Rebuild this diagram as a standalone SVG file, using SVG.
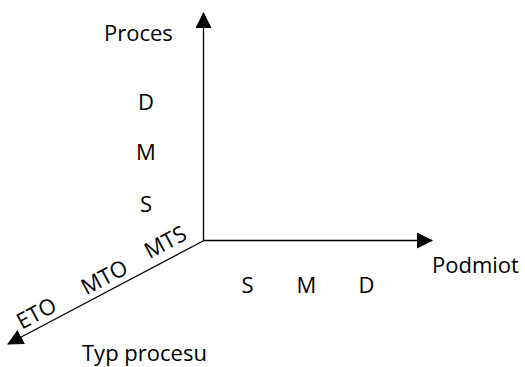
<svg xmlns="http://www.w3.org/2000/svg" width="525" height="367" viewBox="0 0 525 367">
<style>
text{font-family:"Open Sans","Liberation Sans",sans-serif;font-size:22px;fill:#000}
.mid{text-anchor:middle}
.ax{stroke:#000;stroke-width:1.3;fill:none}
</style>
<defs>
<marker id="ahb" markerWidth="16" markerHeight="16" refX="15" refY="8" orient="auto" markerUnits="userSpaceOnUse" viewBox="0 0 16 16">
<path d="M0,0 L16,8 L0,16 Z" fill="#000"/>
</marker>
</defs>
<g id="connectors">
<line class="ax" x1="203.5" y1="240.5" x2="203.5" y2="13" marker-end="url(#ahb)"/>
<line class="ax" x1="203" y1="240.5" x2="432" y2="240.5" marker-end="url(#ahb)"/>
<line class="ax" x1="204" y1="240.5" x2="8" y2="344" marker-end="url(#ahb)"/>
</g>
<g id="axis-proces">
<text x="104" y="41">Proces</text>
<text class="mid" x="146" y="110">D</text>
<text class="mid" x="146" y="160">M</text>
<text class="mid" x="146" y="212">S</text>
</g>
<g id="axis-podmiot">
<text x="432" y="273">Podmiot</text>
<text class="mid" x="247.5" y="293">S</text>
<text class="mid" x="306.5" y="293">M</text>
<text class="mid" x="366.5" y="293">D</text>
</g>
<g id="axis-typ">
<text x="82" y="361">Typ procesu</text>
<text class="mid" transform="translate(40,320) rotate(-28)">ETO</text>
<text class="mid" transform="translate(108,284) rotate(-28)">MTO</text>
<text class="mid" transform="translate(169,249) rotate(-28)">MTS</text>
</g>
</svg>
